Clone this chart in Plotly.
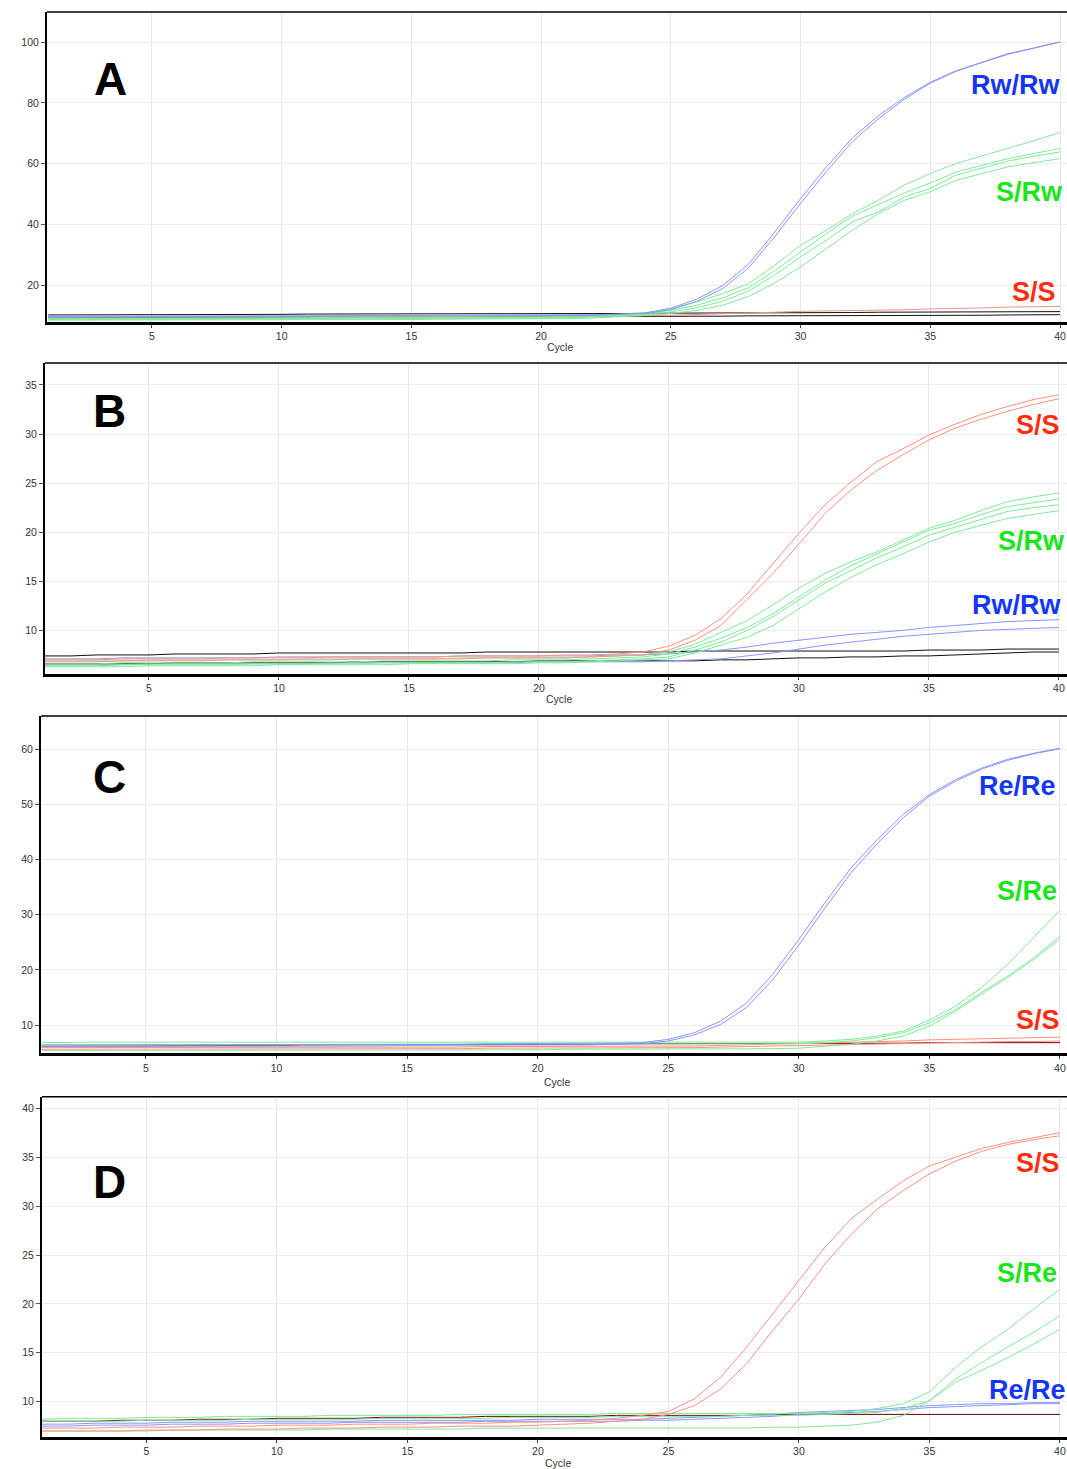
import plotly.graph_objects as go

W, H = 1067, 1469
CYCLES = [1, 2, 3, 4, 5, 6, 7, 8, 9, 10, 11, 12, 13, 14, 15, 16, 17, 18, 19, 20,
          21, 22, 23, 24, 25, 26, 27, 28, 29, 30, 31, 32, 33, 34, 35, 36, 37, 38, 39, 40]
X_TICKS = [5, 10, 15, 20, 25, 30, 35, 40]

# ---------------- Panel A ----------------
A_RW1 = [9.9, 9.9, 9.9, 9.9, 9.9, 10.0, 10.0, 10.0, 10.0, 10.0,
         10.1, 10.1, 10.1, 10.1, 10.1, 10.2, 10.2, 10.2, 10.2, 10.3,
         10.3, 10.4, 10.6, 11.0, 12.5, 15.5, 20.0, 27.0, 37.5, 48.5,
         59.0, 68.5, 75.8, 81.8, 86.8, 90.6, 93.4, 96.2, 98.1, 100.1]
A_RW2 = [9.6, 9.6, 9.6, 9.6, 9.7, 9.7, 9.7, 9.7, 9.8, 9.8,
         9.8, 9.9, 9.9, 9.9, 9.9, 10.0, 10.0, 10.0, 10.0, 10.1,
         10.1, 10.2, 10.4, 10.8, 12.0, 14.8, 19.0, 25.8, 36.0, 47.0,
         57.5, 67.3, 74.8, 81.2, 86.5, 90.4, 93.3, 96.0, 98.0, 100.0]
A_SR1 = [9.2, 9.2, 9.2, 9.3, 9.3, 9.3, 9.3, 9.4, 9.4, 9.4,
         9.4, 9.5, 9.5, 9.5, 9.5, 9.6, 9.6, 9.6, 9.7, 9.7,
         9.8, 9.9, 10.2, 10.8, 12.4, 14.6, 17.3, 20.6, 26.6, 33.2,
         38.2, 43.6, 48.0, 53.0, 56.8, 60.1, 62.6, 65.0, 67.6, 70.3]
A_SR2 = [9.0, 9.0, 9.0, 9.0, 9.1, 9.1, 9.1, 9.1, 9.2, 9.2,
         9.2, 9.2, 9.3, 9.3, 9.3, 9.3, 9.4, 9.4, 9.4, 9.5,
         9.6, 9.7, 10.0, 10.5, 11.8, 13.5, 15.9, 19.3, 24.8, 31.0,
         37.1, 42.8, 46.7, 50.4, 53.7, 57.3, 59.5, 61.7, 63.4, 65.0]
A_SR3 = [8.8, 8.8, 8.8, 8.8, 8.9, 8.9, 8.9, 8.9, 8.9, 9.0,
         9.0, 9.0, 9.0, 9.1, 9.1, 9.1, 9.1, 9.2, 9.2, 9.3,
         9.4, 9.5, 9.8, 10.3, 11.3, 12.7, 14.8, 18.2, 23.4, 29.4,
         34.9, 40.9, 44.2, 49.1, 51.9, 56.3, 58.6, 60.9, 62.5, 63.9]
A_SR4 = [8.6, 8.6, 8.6, 8.6, 8.6, 8.7, 8.7, 8.7, 8.7, 8.7,
         8.8, 8.8, 8.8, 8.8, 8.8, 8.9, 8.9, 8.9, 9.0, 9.0,
         9.1, 9.3, 9.6, 10.1, 10.8, 11.8, 13.5, 16.4, 20.8, 26.1,
         32.1, 38.2, 43.6, 48.0, 50.8, 54.6, 56.8, 59.0, 60.4, 61.7]
A_SS1 = [9.6, 9.6, 9.6, 9.6, 9.6, 9.6, 9.7, 9.7, 9.7, 9.7,
         9.7, 9.7, 9.8, 9.8, 9.8, 9.8, 9.8, 9.9, 9.9, 9.9,
         9.9, 10.0, 10.0, 10.1, 10.2, 10.4, 10.7, 10.9, 11.2, 11.5,
         11.6, 11.7, 11.8, 12.0, 12.3, 12.4, 12.6, 12.9, 13.0, 13.1]
A_NTC1 = [10.3, 10.3, 10.4, 10.4, 10.4, 10.5, 10.5, 10.5, 10.5, 10.5,
          10.6, 10.6, 10.6, 10.6, 10.6, 10.7, 10.7, 10.7, 10.7, 10.7,
          10.8, 10.8, 10.8, 10.8, 10.9, 10.9, 10.9, 11.0, 11.0, 11.0,
          11.1, 11.1, 11.2, 11.2, 11.2, 11.3, 11.3, 11.3, 11.4, 11.4]
A_NTC2 = [9.4, 9.4, 9.4, 9.5, 9.5, 9.5, 9.5, 9.5, 9.6, 9.6,
          9.6, 9.6, 9.6, 9.7, 9.7, 9.7, 9.7, 9.7, 9.8, 9.8,
          9.8, 9.8, 9.8, 9.9, 9.9, 9.9, 9.9, 10.0, 10.0, 10.0,
          10.0, 10.1, 10.1, 10.1, 10.2, 10.2, 10.2, 10.3, 10.3, 10.4]

# ---------------- Panel B ----------------
B_SS1 = [7.0, 7.0, 7.0, 7.1, 7.1, 7.1, 7.1, 7.2, 7.2, 7.2,
         7.2, 7.3, 7.3, 7.3, 7.3, 7.3, 7.4, 7.4, 7.4, 7.4,
         7.5, 7.5, 7.6, 7.8, 8.4, 9.5, 11.2, 13.7, 16.8, 19.9,
         22.8, 25.1, 27.2, 28.5, 29.9, 31.0, 32.0, 32.8, 33.5, 34.0]
B_SS2 = [6.8, 6.8, 6.8, 6.9, 6.9, 6.9, 6.9, 7.0, 7.0, 7.0,
         7.0, 7.0, 7.1, 7.1, 7.1, 7.1, 7.1, 7.2, 7.2, 7.2,
         7.2, 7.3, 7.4, 7.5, 8.0, 9.0, 10.5, 13.1, 15.8, 18.8,
         21.9, 24.3, 26.3, 27.9, 29.4, 30.6, 31.5, 32.3, 33.0, 33.6]
B_SR1 = [6.9, 6.9, 6.9, 6.9, 7.0, 7.0, 7.0, 7.0, 7.0, 7.0,
         7.1, 7.1, 7.1, 7.1, 7.1, 7.1, 7.2, 7.2, 7.2, 7.2,
         7.2, 7.3, 7.4, 7.5, 7.8, 8.6, 9.8, 11.0, 12.6, 14.3,
         15.8, 17.0, 18.0, 19.2, 20.4, 21.2, 22.2, 23.1, 23.6, 24.0]
B_SR2 = [6.6, 6.6, 6.6, 6.7, 6.7, 6.7, 6.7, 6.7, 6.8, 6.8,
         6.8, 6.8, 6.8, 6.9, 6.9, 6.9, 6.9, 6.9, 7.0, 7.0,
         7.0, 7.1, 7.2, 7.3, 7.6, 8.3, 9.2, 10.3, 11.7, 13.4,
         15.1, 16.6, 17.8, 19.0, 20.2, 20.9, 21.8, 22.6, 23.0, 23.4]
B_SR3 = [6.4, 6.4, 6.4, 6.5, 6.5, 6.5, 6.5, 6.5, 6.6, 6.6,
         6.6, 6.6, 6.6, 6.7, 6.7, 6.7, 6.7, 6.7, 6.8, 6.8,
         6.8, 6.9, 7.0, 7.1, 7.3, 8.0, 8.8, 10.0, 11.4, 13.1,
         14.8, 16.1, 17.4, 18.5, 19.7, 20.5, 21.3, 22.1, 22.5, 22.8]
B_SR4 = [6.3, 6.3, 6.3, 6.3, 6.4, 6.4, 6.4, 6.4, 6.4, 6.5,
         6.5, 6.5, 6.5, 6.5, 6.6, 6.6, 6.6, 6.6, 6.6, 6.7,
         6.7, 6.8, 6.9, 7.0, 7.1, 7.7, 8.5, 9.3, 10.5, 12.2,
         13.9, 15.4, 16.7, 17.8, 19.0, 20.0, 20.7, 21.4, 21.8, 22.2]
B_RW1 = [7.1, 7.1, 7.1, 7.2, 7.2, 7.2, 7.2, 7.2, 7.2, 7.3,
         7.3, 7.3, 7.3, 7.3, 7.3, 7.3, 7.4, 7.4, 7.4, 7.4,
         7.4, 7.4, 7.5, 7.5, 7.6, 7.8, 8.0, 8.3, 8.7, 9.0,
         9.3, 9.6, 9.8, 10.0, 10.3, 10.5, 10.7, 10.9, 11.0, 11.1]
B_RW2 = [6.5, 6.5, 6.5, 6.5, 6.6, 6.6, 6.6, 6.6, 6.6, 6.6,
         6.6, 6.7, 6.7, 6.7, 6.7, 6.7, 6.7, 6.7, 6.7, 6.8,
         6.8, 6.8, 6.8, 6.8, 6.9, 7.0, 7.1, 7.4, 7.7, 8.1,
         8.5, 8.8, 9.1, 9.4, 9.6, 9.8, 10.0, 10.1, 10.2, 10.3]
B_NTC1 = [7.4, 7.4, 7.5, 7.5, 7.5, 7.6, 7.6, 7.6, 7.6, 7.7,
          7.7, 7.7, 7.7, 7.7, 7.7, 7.7, 7.7, 7.8, 7.8, 7.8,
          7.8, 7.8, 7.8, 7.8, 7.8, 7.9, 7.9, 7.9, 7.9, 7.9,
          7.9, 7.9, 7.9, 7.9, 8.0, 8.0, 8.0, 8.1, 8.1, 8.1]
B_NTC2 = [6.6, 6.6, 6.6, 6.6, 6.6, 6.7, 6.7, 6.7, 6.7, 6.7,
          6.7, 6.7, 6.8, 6.8, 6.8, 6.8, 6.8, 6.8, 6.8, 6.9,
          6.9, 6.9, 6.9, 6.9, 6.9, 6.9, 7.0, 7.0, 7.1, 7.2,
          7.2, 7.3, 7.3, 7.4, 7.4, 7.5, 7.6, 7.7, 7.8, 7.8]

# ---------------- Panel C ----------------
C_RE1 = [6.4, 6.4, 6.4, 6.4, 6.4, 6.4, 6.4, 6.5, 6.5, 6.5,
         6.5, 6.5, 6.5, 6.5, 6.5, 6.5, 6.5, 6.6, 6.6, 6.6,
         6.6, 6.6, 6.7, 6.8, 7.4, 8.6, 10.7, 14.0, 19.2, 25.5,
         32.2, 38.5, 43.6, 48.2, 51.8, 54.5, 56.6, 58.2, 59.3, 60.2]
C_RE2 = [6.1, 6.1, 6.1, 6.1, 6.1, 6.1, 6.2, 6.2, 6.2, 6.2,
         6.2, 6.2, 6.2, 6.2, 6.3, 6.3, 6.3, 6.3, 6.3, 6.3,
         6.3, 6.4, 6.5, 6.6, 7.1, 8.2, 10.1, 13.2, 18.2, 24.5,
         31.2, 37.6, 42.9, 47.6, 51.5, 54.2, 56.4, 58.0, 59.2, 60.1]
C_SR1 = [6.8, 6.9, 6.9, 6.9, 6.9, 6.9, 6.9, 6.9, 6.9, 7.0,
         7.0, 7.0, 7.0, 7.0, 7.0, 7.0, 7.0, 7.0, 7.0, 7.0,
         7.0, 7.0, 7.0, 7.0, 7.0, 7.0, 7.0, 7.0, 7.0, 6.9,
         7.1, 7.4, 8.0, 8.9, 10.9, 13.4, 16.8, 21.0, 25.9, 30.8]
C_SR2 = [6.3, 6.3, 6.3, 6.4, 6.4, 6.4, 6.4, 6.4, 6.4, 6.4,
         6.5, 6.5, 6.5, 6.5, 6.5, 6.5, 6.5, 6.5, 6.5, 6.5,
         6.5, 6.5, 6.5, 6.5, 6.5, 6.5, 6.5, 6.5, 6.5, 6.6,
         6.8, 7.1, 7.7, 8.6, 10.4, 12.8, 15.9, 18.9, 22.2, 26.1]
C_SR3 = [5.4, 5.4, 5.4, 5.4, 5.4, 5.5, 5.5, 5.5, 5.5, 5.5,
         5.5, 5.5, 5.5, 5.5, 5.5, 5.5, 5.5, 5.5, 5.5, 5.5,
         5.6, 5.6, 5.6, 5.6, 5.6, 5.6, 5.6, 5.6, 5.7, 5.8,
         6.1, 6.5, 7.1, 8.0, 9.8, 12.5, 15.6, 18.6, 21.9, 25.6]
C_SS1 = [5.9, 5.9, 5.9, 5.9, 5.9, 5.9, 5.9, 5.9, 6.0, 6.0,
         6.0, 6.0, 6.0, 6.0, 6.0, 6.0, 6.0, 6.1, 6.1, 6.1,
         6.1, 6.1, 6.1, 6.1, 6.2, 6.2, 6.3, 6.4, 6.5, 6.6,
         6.7, 6.8, 7.0, 7.1, 7.3, 7.4, 7.5, 7.6, 7.7, 7.8]
C_SS2 = [5.6, 5.6, 5.6, 5.6, 5.6, 5.6, 5.6, 5.6, 5.7, 5.7,
         5.7, 5.7, 5.7, 5.7, 5.7, 5.7, 5.7, 5.8, 5.8, 5.8,
         5.8, 5.8, 5.8, 5.9, 5.9, 5.9, 6.0, 6.1, 6.2, 6.3,
         6.4, 6.5, 6.6, 6.7, 6.8, 6.9, 6.9, 7.0, 7.0, 7.1]
C_NTC = [6.2, 6.2, 6.2, 6.2, 6.3, 6.3, 6.3, 6.3, 6.3, 6.3,
         6.4, 6.4, 6.4, 6.4, 6.4, 6.4, 6.5, 6.5, 6.5, 6.5,
         6.5, 6.5, 6.6, 6.6, 6.6, 6.6, 6.6, 6.6, 6.7, 6.7,
         6.7, 6.7, 6.7, 6.7, 6.8, 6.8, 6.8, 6.8, 6.8, 6.8]

# ---------------- Panel D ----------------
D_SS1 = [7.3, 7.3, 7.3, 7.4, 7.4, 7.4, 7.5, 7.5, 7.5, 7.6,
         7.6, 7.6, 7.7, 7.7, 7.7, 7.8, 7.8, 7.8, 7.9, 7.9,
         8.0, 8.1, 8.3, 8.6, 9.0, 10.3, 12.5, 15.6, 19.0, 22.4,
         25.8, 28.7, 30.7, 32.6, 34.1, 35.0, 35.9, 36.5, 37.0, 37.5]
D_SS2 = [7.0, 7.0, 7.0, 7.0, 7.1, 7.1, 7.1, 7.2, 7.2, 7.2,
         7.3, 7.3, 7.3, 7.4, 7.4, 7.4, 7.5, 7.5, 7.5, 7.6,
         7.7, 7.8, 8.0, 8.2, 8.7, 9.6, 11.3, 13.9, 17.3, 20.5,
         24.1, 27.1, 29.7, 31.6, 33.3, 34.6, 35.6, 36.3, 36.8, 37.2]
D_SR1 = [8.2, 8.3, 8.3, 8.3, 8.4, 8.4, 8.4, 8.5, 8.5, 8.5,
         8.5, 8.6, 8.6, 8.6, 8.6, 8.6, 8.7, 8.7, 8.7, 8.7,
         8.7, 8.7, 8.8, 8.8, 8.8, 8.8, 8.8, 8.8, 8.8, 8.8,
         8.9, 9.0, 9.3, 9.8, 11.0, 13.5, 15.6, 17.4, 19.5, 21.5]
D_SR2 = [8.0, 8.0, 8.0, 8.0, 8.1, 8.1, 8.1, 8.1, 8.2, 8.2,
         8.2, 8.2, 8.2, 8.3, 8.3, 8.3, 8.3, 8.3, 8.4, 8.4,
         8.4, 8.4, 8.5, 8.5, 8.5, 8.5, 8.5, 8.6, 8.6, 8.6,
         8.7, 8.8, 8.9, 9.3, 10.1, 12.3, 14.0, 15.6, 17.1, 18.8]
D_SR3 = [7.0, 7.0, 7.0, 7.0, 7.0, 7.1, 7.1, 7.1, 7.1, 7.1,
         7.1, 7.2, 7.2, 7.2, 7.2, 7.2, 7.2, 7.3, 7.3, 7.3,
         7.3, 7.3, 7.3, 7.3, 7.3, 7.3, 7.3, 7.3, 7.4, 7.4,
         7.5, 7.6, 7.9, 8.6, 10.1, 12.0, 13.2, 14.5, 15.9, 17.4]
D_RE1 = [7.7, 7.7, 7.8, 7.8, 7.8, 7.9, 7.9, 7.9, 8.0, 8.0,
         8.0, 8.0, 8.0, 8.1, 8.1, 8.1, 8.1, 8.1, 8.1, 8.2,
         8.2, 8.2, 8.2, 8.2, 8.3, 8.4, 8.5, 8.6, 8.7, 8.9,
         9.0, 9.1, 9.2, 9.4, 9.6, 9.7, 9.8, 9.8, 9.9, 9.9]
D_RE2 = [7.5, 7.5, 7.6, 7.6, 7.6, 7.7, 7.7, 7.7, 7.8, 7.8,
         7.8, 7.8, 7.9, 7.9, 7.9, 7.9, 7.9, 8.0, 8.0, 8.0,
         8.0, 8.0, 8.0, 8.1, 8.1, 8.2, 8.3, 8.4, 8.5, 8.7,
         8.8, 8.9, 9.0, 9.2, 9.4, 9.5, 9.6, 9.7, 9.8, 9.8]
D_NTC = [8.0, 8.0, 8.0, 8.1, 8.1, 8.1, 8.2, 8.2, 8.2, 8.3,
         8.3, 8.3, 8.3, 8.4, 8.4, 8.4, 8.4, 8.5, 8.5, 8.5,
         8.5, 8.5, 8.6, 8.6, 8.6, 8.6, 8.6, 8.6, 8.7, 8.7,
         8.7, 8.7, 8.7, 8.7, 8.7, 8.7, 8.7, 8.7, 8.7, 8.7]

# ---------------- styling ----------------
FONT = "Arial, Liberation Sans, sans-serif"
C_BLUE, C_GREEN, C_RED = "#8797ff", "#7fea95", "#ff8f7f"
C_BLACK, C_MAROON = "#111111", "#6e0000"
L_BLUE, L_GREEN, L_RED = "#1537f5", "#19e619", "#ff2d0f"


def py(p):
    return 1 - p / H


PANELS = [
    ("A", [(A_NTC1, C_BLACK), (A_NTC2, C_BLACK), (A_SS1, C_RED),
           (A_SR1, C_GREEN), (A_SR2, C_GREEN), (A_SR3, C_GREEN), (A_SR4, C_GREEN),
           (A_RW1, C_BLUE), (A_RW2, C_BLUE)],
     [8.15, 109.9], [20, 40, 60, 80, 100], [0.954, 40.27], (47, 12, 321.5),
     [("Rw/Rw", L_BLUE, 1063, 85), ("S/Rw", L_GREEN, 1065, 192), ("S/S", L_RED, 1058, 292)],
     (110, 79), 347),
    ("B", [(B_NTC1, C_BLACK), (B_NTC2, C_BLACK),
           (B_RW1, C_BLUE), (B_RW2, C_BLUE),
           (B_SR1, C_GREEN), (B_SR2, C_GREEN), (B_SR3, C_GREEN), (B_SR4, C_GREEN),
           (B_SS1, C_RED), (B_SS2, C_RED)],
     [5.61, 37.24], [10, 15, 20, 25, 30, 35], [1.0, 40.31], (45, 363, 673.5),
     [("S/S", L_RED, 1062, 425), ("S/Rw", L_GREEN, 1067, 541), ("Rw/Rw", L_BLUE, 1064, 605)],
     (109, 411), 699),
    ("C", [(C_NTC, C_MAROON), (C_SS1, C_RED), (C_SS2, C_RED),
           (C_SR1, C_GREEN), (C_SR2, C_GREEN), (C_SR3, C_GREEN),
           (C_RE1, C_BLUE), (C_RE2, C_BLUE)],
     [4.87, 66.04], [10, 20, 30, 40, 50, 60], [0.98, 40.27], (41, 716, 1053.3),
     [("Re/Re", L_BLUE, 1058, 786), ("S/Re", L_GREEN, 1059, 891), ("S/S", L_RED, 1062, 1020)],
     (109, 777), 1082),
    ("D", [(D_NTC, C_MAROON), (D_RE1, C_BLUE), (D_RE2, C_BLUE),
           (D_SR1, C_GREEN), (D_SR2, C_GREEN), (D_SR3, C_GREEN),
           (D_SS1, C_RED), (D_SS2, C_RED)],
     [6.42, 41.19], [10, 15, 20, 25, 30, 35, 40], [1.0, 40.27], (42, 1096.7, 1436.7),
     [("S/S", L_RED, 1062, 1163), ("S/Re", L_GREEN, 1059, 1273), ("Re/Re", L_BLUE, 1068, 1390)],
     (109, 1182), 1463),
]

fig = go.Figure()
annotations = []
shapes = []
layout_axes = {}

for i, (letter, series, yr, yt, xr, box, labels, letter_pos, cycle_y) in enumerate(PANELS):
    n = "" if i == 0 else str(i + 1)
    xa, ya = "x" + n, "y" + n
    left, top, bottom = box
    for vals, col in series:
        fig.add_trace(go.Scatter(x=CYCLES, y=vals, mode="lines", xaxis=xa, yaxis=ya,
                                 line=dict(color=col, width=1), showlegend=False,
                                 hoverinfo="skip"))
    layout_axes["xaxis" + n] = dict(
        domain=[left / W, 1.0], range=xr, anchor=ya, tickvals=X_TICKS,
        showgrid=True, gridcolor="#e8e8e8", gridwidth=1, zeroline=False,
        showline=True, linecolor="black", linewidth=3, ticks="outside", ticklen=3,
        tickcolor="#444", tickfont=dict(size=10.5, color="#333", family=FONT))
    layout_axes["yaxis" + n] = dict(
        domain=[py(bottom), py(top)], range=yr, anchor=xa, tickvals=yt,
        showgrid=True, gridcolor="#ececec", gridwidth=1, zeroline=False,
        showline=True, linecolor="black", linewidth=2, ticks="outside", ticklen=4,
        tickcolor="#555", tickfont=dict(size=10.5, color="#333", family=FONT))
    shapes.append(dict(type="line", xref="paper", yref="paper", x0=left / W, x1=1.0,
                       y0=py(top), y1=py(top), line=dict(color="black", width=1.5)))
    annotations.append(dict(text="<b>%s</b>" % letter, xref="paper", yref="paper",
                            x=letter_pos[0] / W, y=py(letter_pos[1]), xanchor="center",
                            yanchor="middle", showarrow=False,
                            font=dict(size=46, color="black", family=FONT)))
    for txt, col, rx, ry in labels:
        annotations.append(dict(text="<b>%s</b>" % txt, xref="paper", yref="paper",
                                x=rx / W, y=py(ry), xanchor="right", yanchor="middle",
                                showarrow=False, font=dict(size=27, color=col, family=FONT)))
    annotations.append(dict(text="Cycle", xref="paper", yref="paper",
                            x=(left + (1067 - left) / 2 + 3) / W, y=py(cycle_y),
                            xanchor="center", yanchor="middle", showarrow=False,
                            font=dict(size=10.5, color="#333", family=FONT)))

fig.update_layout(width=W, height=H, autosize=False,
                  margin=dict(l=0, r=0, t=0, b=0, pad=0),
                  paper_bgcolor="white", plot_bgcolor="white",
                  annotations=annotations, shapes=shapes, **layout_axes)

fig.write_html("out.html", config={"displayModeBar": False},
               post_script="document.body.style.margin='0';"
                           "document.body.style.overflow='hidden';")
